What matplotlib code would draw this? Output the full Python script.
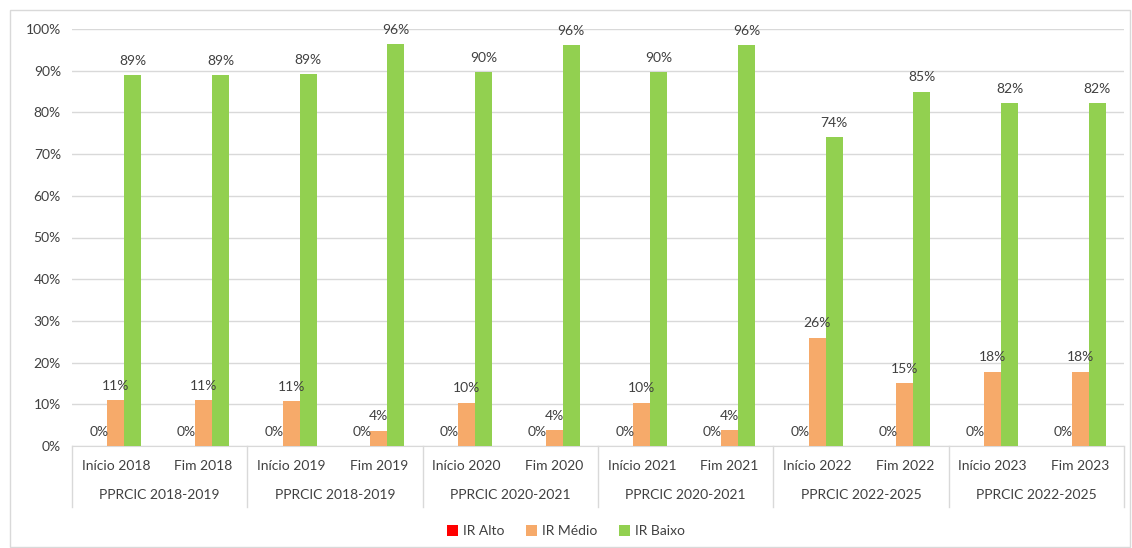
import numpy as np
import matplotlib.pyplot as plt
from matplotlib.transforms import blended_transform_factory
from matplotlib.patches import Rectangle

plt.rcParams['font.family'] = ['Lato', 'DejaVu Sans']

# Dados
periodos = ['Início 2018', 'Fim 2018', 'Início 2019', 'Fim 2019',
            'Início 2020', 'Fim 2020', 'Início 2021', 'Fim 2021',
            'Início 2022', 'Fim 2022', 'Início 2023', 'Fim 2023']
programas = ['PPRCIC 2018-2019', 'PPRCIC 2018-2019', 'PPRCIC 2020-2021',
             'PPRCIC 2020-2021', 'PPRCIC 2022-2025', 'PPRCIC 2022-2025']
ir_alto = [0, 0, 0, 0, 0, 0, 0, 0, 0, 0, 0, 0]
ir_medio = [0.11, 0.11, 0.108, 0.037, 0.104, 0.038, 0.104, 0.038, 0.26, 0.15, 0.178, 0.178]
ir_baixo = [0.89, 0.89, 0.892, 0.963, 0.896, 0.962, 0.896, 0.962, 0.74, 0.85, 0.822, 0.822]

series = [('IR Alto', ir_alto, '#FF0000'),
          ('IR Médio', ir_medio, '#F6AA6A'),
          ('IR Baixo', ir_baixo, '#92D050')]

txt = '#404040'
fs = 10
W, H = 1132, 548
fig = plt.figure(figsize=(W / 100, H / 100), dpi=100)
ax = fig.add_axes([72 / W, (H - 446) / H, 1052 / W, 417 / H])

# Borda externa
fig.patches.append(Rectangle((10 / W, 1 / H), 1120 / W, 537 / H, transform=fig.transFigure,
                             fill=False, edgecolor='#d9d9d9', linewidth=1))

x = np.arange(len(periodos))
bw = 0.194
for i, (nome, vals, cor) in enumerate(series):
    pos = x + (i - 1) * bw
    ax.bar(pos, vals, bw, color=cor, label=nome, zorder=3)
    for px, v in zip(pos, vals):
        ax.annotate(f'{v:.0%}', (px, v), xytext=(0, 6), textcoords='offset points',
                    ha='center', va='bottom', fontsize=fs, color=txt,
                    clip_on=False, zorder=4)

ax.set_xlim(-0.5, len(periodos) - 0.5)
ax.set_ylim(0, 1)
ax.set_yticks(np.arange(0, 1.01, 0.1))
ax.set_yticklabels([f'{int(round(t * 100))}%' for t in np.arange(0, 1.01, 0.1)])
ax.tick_params(axis='y', length=0, labelsize=fs, labelcolor=txt, pad=8)
ax.set_xticks([])
ax.grid(axis='y', color='#d9d9d9', linewidth=1, zorder=0)
for s in ['left', 'right', 'top']:
    ax.spines[s].set_visible(False)
ax.spines['bottom'].set_color('#d9d9d9')

# Rótulos de categorias em dois níveis
tr = blended_transform_factory(ax.transData, ax.transAxes)
for xi, lab in zip(x, periodos):
    ax.text(xi, -20 / 417, lab, transform=tr, ha='center', va='center',
            fontsize=fs, color=txt)
for j, prog in enumerate(programas):
    ax.text(2 * j + 0.5, -49 / 417, prog, transform=tr, ha='center', va='center',
            fontsize=fs, color=txt)
for b in np.arange(-0.5, len(periodos), 2):
    ax.plot([b, b], [0, -61 / 417], transform=tr, color='#d9d9d9',
            linewidth=1, clip_on=False)

fig.legend(loc='center', bbox_to_anchor=(0.5, (H - 531) / H), ncol=3, frameon=False,
           fontsize=fs, handlelength=0.8, handleheight=0.8, handletextpad=0.4,
           columnspacing=1.5, labelcolor=txt)

fig.savefig('out.png', dpi=100)
